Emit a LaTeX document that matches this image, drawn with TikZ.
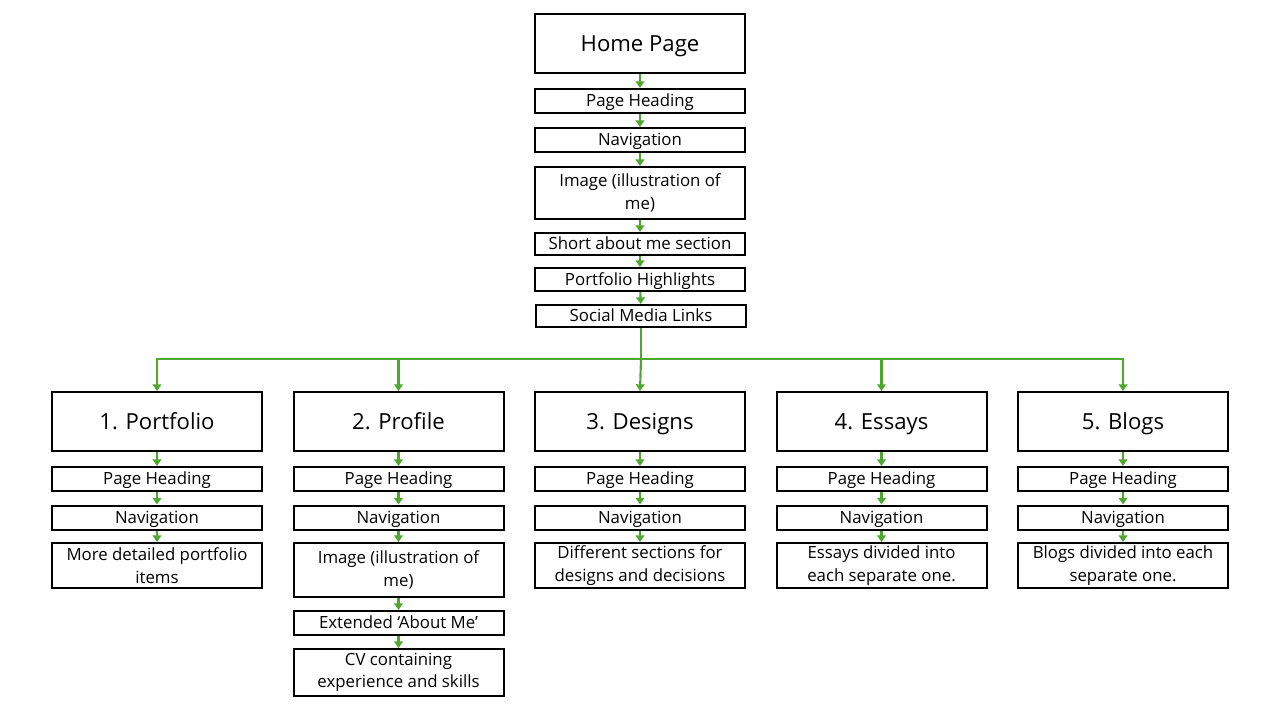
\documentclass[tikz,border=0pt]{standalone}
\usepackage{fontspec}
\setmainfont{Open Sans}
\usetikzlibrary{arrows.meta}
\definecolor{grn}{HTML}{4EA72E}
\tikzset{
  box/.style={draw=black, line width=1.5pt, inner sep=0pt, minimum width=157.5pt, align=center, font=\fontsize{12.6pt}{17pt}\selectfont},
  title/.style={box, minimum height=44.25pt, text height=13.5pt, text depth=2.1pt, font=\fontsize{16.6pt}{20pt}\selectfont},
  one/.style={box, minimum height=18pt, text height=10.2pt, text depth=1.8pt},
  two/.style={box, minimum height=39pt},
  arr/.style={draw=grn, line width=1.6pt, -{Triangle[length=5pt,width=6.5pt]}},
}
\begin{document}
\begin{tikzpicture}[x=0.75pt,y=-0.75pt]
\useasboundingbox (0,0) rectangle (1280,720);
% home column
\node[title] (home) at (640,43.5) {Home Page};
\node[one] (hph) at (640,101) {Page Heading};
\node[one] (hnav) at (640,140) {Navigation};
\node[two] (himg) at (640,193) {Image (illustration of\\me)};
\node[one, minimum height=16.5pt] (hshort) at (640,244) {Short about me section};
\node[one, minimum height=17.25pt] (hport) at (640,279.5) {Portfolio Highlights};
\node[one, minimum height=16.5pt] (hsoc) at (641,316) {Social Media Links};
\draw[arr] (home) -- (hph);
\draw[arr] (hph) -- (hnav);
\draw[arr] (hnav) -- (himg);
\draw[arr] (himg) -- (hshort);
\draw[arr] (hshort) -- (hport);
\draw[arr] (hport) -- (hsoc);
% sections
\node[title] (p1) at (157,421.5) {1. Portfolio};
\node[title] (p2) at (398.5,421.5) {2. Profile};
\node[title] (p3) at (640,421.5) {3. Designs};
\node[title] (p4) at (881.5,421.5) {4. Essays};
\node[title] (p5) at (1123,421.5) {5. Blogs};
\coordinate (hub) at (641,359);
\draw[draw=grn, line width=1.6pt] (hsoc.south) -- (hub);
\draw[arr] (hub) -| (p1.north);
\draw[arr] (hub) -| (p2.north);
\draw[arr] (hub) -- (p3.north);
\draw[arr] (hub) -| (p4.north);
\draw[arr] (hub) -| (p5.north);
% column 1
\node[one] (ph1) at (157,479) {Page Heading};
\node[one] (nv1) at (157,517.5) {Navigation};
\node[box, minimum height=33.75pt] (x1) at (157,565.5) {More detailed portfolio\\items};
\draw[arr] (p1) -- (ph1);
\draw[arr] (ph1) -- (nv1);
\draw[arr] (nv1) -- (x1);
% column 2
\node[one] (ph2) at (398.5,479) {Page Heading};
\node[one] (nv2) at (398.5,517.5) {Navigation};
\node[two, minimum height=40.5pt] (img2) at (398.5,570) {Image (illustration of\\me)};
\node[one] (ext2) at (398.5,623) {Extended ‘About Me’};
\node[box, minimum height=35.25pt] (cv2) at (398.5,672.5) {CV containing\\experience and skills};
\draw[arr] (p2) -- (ph2);
\draw[arr] (ph2) -- (nv2);
\draw[arr] (nv2) -- (img2);
\draw[arr] (img2) -- (ext2);
\draw[arr] (ext2) -- (cv2);
% column 3
\node[one] (ph3) at (640,479) {Page Heading};
\node[one] (nv3) at (640,517.5) {Navigation};
\node[box, minimum height=33.75pt] (x3) at (640,565.5) {Different sections for\\designs and decisions};
\draw[arr] (p3) -- (ph3);
\draw[arr] (ph3) -- (nv3);
\draw[arr] (nv3) -- (x3);
% column 4
\node[one] (ph4) at (881.5,479) {Page Heading};
\node[one] (nv4) at (881.5,517.5) {Navigation};
\node[box, minimum height=33.75pt] (x4) at (881.5,565.5) {Essays divided into\\each separate one.};
\draw[arr] (p4) -- (ph4);
\draw[arr] (ph4) -- (nv4);
\draw[arr] (nv4) -- (x4);
% column 5
\node[one] (ph5) at (1123,479) {Page Heading};
\node[one] (nv5) at (1123,517.5) {Navigation};
\node[box, minimum height=33.75pt] (x5) at (1123,565.5) {Blogs divided into each\\separate one.};
\draw[arr] (p5) -- (ph5);
\draw[arr] (ph5) -- (nv5);
\draw[arr] (nv5) -- (x5);
\end{tikzpicture}
\end{document}
